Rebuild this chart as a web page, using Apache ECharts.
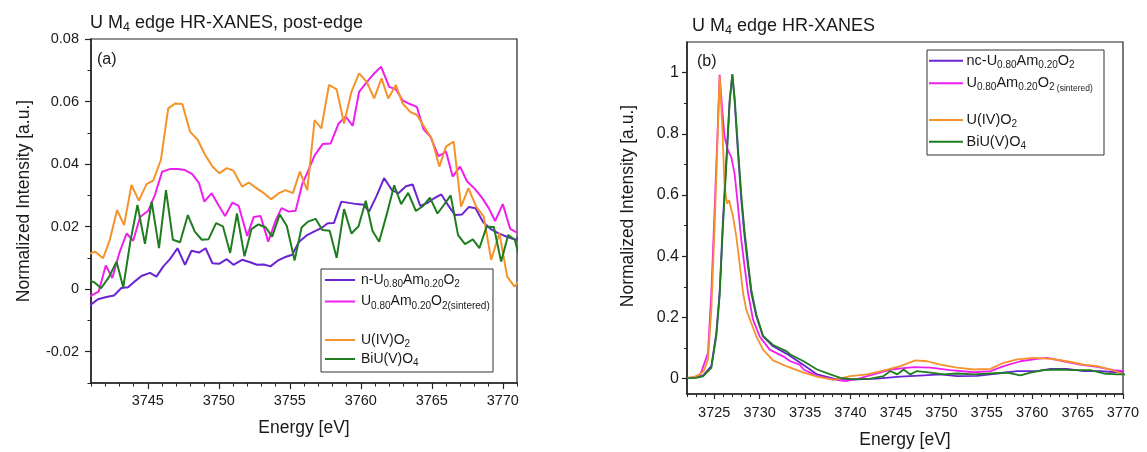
<!DOCTYPE html>
<html>
<head>
<meta charset="utf-8">
<script src="https://cdn.jsdelivr.net/npm/echarts@6/dist/echarts.min.js"></script>
<style>
  html, body { margin: 0; padding: 0; background: #fff; }
  #chart { width: 1147px; height: 452px; }
</style>
</head>
<body>
<div id="chart"></div>
<script>
// panel (a): post-edge region
const xTicksA = [3745, 3750, 3755, 3760, 3765, 3770];
const yTicksA = [-0.02, 0, 0.02, 0.04, 0.06, 0.08];

const eNUa = [3740.82, 3741.49, 3742.08, 3742.62, 3743.14, 3743.61, 3744.09, 3744.55, 3745.15, 3745.61, 3746.08, 3746.56, 3747.09, 3747.62, 3748.08, 3748.61, 3749.07, 3749.55, 3750.02, 3750.56, 3751.03, 3751.64, 3752.16, 3752.69, 3753.17, 3753.64, 3754.14, 3754.63, 3755.17, 3755.64, 3756.22, 3756.70, 3757.21, 3757.67, 3758.11, 3758.63, 3759.17, 3759.72, 3760.21, 3760.58, 3761.13, 3761.64, 3762.19, 3762.65, 3763.18, 3763.65, 3764.19, 3764.69, 3765.15, 3765.67, 3766.14, 3766.64, 3767.13, 3767.62, 3768.08, 3768.61, 3769.13, 3769.64, 3770.10, 3770.59, 3770.94, 3771.16];
const iNUa = [-0.0055, -0.0032, -0.0025, -0.0020, 0.0004, 0.0006, 0.0025, 0.0042, 0.0052, 0.0040, 0.0072, 0.0096, 0.0131, 0.0078, 0.0123, 0.0117, 0.0131, 0.0083, 0.0081, 0.0096, 0.0078, 0.0094, 0.0087, 0.0078, 0.0079, 0.0073, 0.0091, 0.0102, 0.0110, 0.0151, 0.0173, 0.0184, 0.0195, 0.0211, 0.0212, 0.0280, 0.0276, 0.0272, 0.0270, 0.0248, 0.0300, 0.0355, 0.0317, 0.0307, 0.0329, 0.0335, 0.0266, 0.0276, 0.0290, 0.0303, 0.0269, 0.0237, 0.0239, 0.0263, 0.0259, 0.0215, 0.0193, 0.0180, 0.0171, 0.0163, 0.0158, 0.0170];

const eSintA = [3740.82, 3741.54, 3742.04, 3742.50, 3743.01, 3743.51, 3743.97, 3744.46, 3745.03, 3745.50, 3746.01, 3746.56, 3747.09, 3747.62, 3748.13, 3748.61, 3748.98, 3749.50, 3749.97, 3750.44, 3750.96, 3751.40, 3752.00, 3752.46, 3752.94, 3753.48, 3753.99, 3754.42, 3754.93, 3755.41, 3755.87, 3756.22, 3756.75, 3757.31, 3757.88, 3758.44, 3758.94, 3759.43, 3759.88, 3760.35, 3760.94, 3761.43, 3762.00, 3762.47, 3762.94, 3763.46, 3763.95, 3764.41, 3764.91, 3765.47, 3766.00, 3766.47, 3766.99, 3767.48, 3768.05, 3768.54, 3769.00, 3769.46, 3770.00, 3770.52, 3771.01, 3771.37];
const iSintA = [-0.0025, -0.0008, 0.0076, 0.0036, 0.0118, 0.0178, 0.0155, 0.0231, 0.0251, 0.0301, 0.0376, 0.0384, 0.0384, 0.0381, 0.0368, 0.0339, 0.0280, 0.0307, 0.0269, 0.0234, 0.0277, 0.0266, 0.0170, 0.0231, 0.0234, 0.0152, 0.0218, 0.0259, 0.0248, 0.0251, 0.0335, 0.0371, 0.0428, 0.0464, 0.0466, 0.0530, 0.0552, 0.0522, 0.0631, 0.0658, 0.0690, 0.0711, 0.0647, 0.0639, 0.0604, 0.0592, 0.0583, 0.0512, 0.0487, 0.0425, 0.0440, 0.0360, 0.0392, 0.0345, 0.0320, 0.0292, 0.0260, 0.0218, 0.0272, 0.0193, 0.0181, 0.0185];

const eUO2a = [3740.82, 3741.30, 3741.85, 3742.32, 3742.84, 3743.33, 3743.85, 3744.37, 3744.91, 3745.38, 3745.92, 3746.44, 3746.95, 3747.43, 3747.97, 3748.51, 3749.03, 3749.55, 3750.04, 3750.56, 3751.03, 3751.64, 3752.11, 3752.65, 3753.17, 3753.69, 3754.23, 3754.70, 3755.22, 3755.71, 3756.23, 3756.75, 3757.22, 3757.76, 3758.30, 3758.82, 3759.34, 3759.88, 3760.42, 3760.94, 3761.46, 3761.93, 3762.47, 3762.94, 3763.48, 3763.95, 3764.47, 3764.99, 3765.53, 3766.00, 3766.54, 3767.06, 3767.58, 3768.12, 3768.66, 3769.18, 3769.76, 3770.31, 3770.82, 3771.30];
const iUO2a = [0.0112, 0.0120, 0.0099, 0.0157, 0.0253, 0.0205, 0.0333, 0.0283, 0.0336, 0.0347, 0.0413, 0.0578, 0.0594, 0.0592, 0.0504, 0.0478, 0.0430, 0.0392, 0.0371, 0.0387, 0.0379, 0.0328, 0.0341, 0.0323, 0.0307, 0.0288, 0.0307, 0.0317, 0.0307, 0.0376, 0.0317, 0.0541, 0.0514, 0.0653, 0.0639, 0.0530, 0.0631, 0.0690, 0.0663, 0.0610, 0.0674, 0.0610, 0.0653, 0.0594, 0.0567, 0.0557, 0.0519, 0.0482, 0.0392, 0.0456, 0.0472, 0.0264, 0.0323, 0.0264, 0.0232, 0.0094, 0.0179, 0.0040, 0.0008, 0.0035];

const eBiUa = [3740.82, 3741.26, 3741.71, 3742.24, 3742.80, 3743.27, 3743.77, 3744.27, 3744.80, 3745.27, 3745.79, 3746.28, 3746.77, 3747.27, 3747.82, 3748.31, 3748.80, 3749.28, 3749.81, 3750.29, 3750.80, 3751.28, 3751.81, 3752.30, 3752.79, 3753.29, 3753.76, 3754.29, 3754.79, 3755.34, 3755.83, 3756.28, 3756.82, 3757.29, 3757.81, 3758.30, 3758.82, 3759.34, 3759.84, 3760.35, 3760.82, 3761.29, 3761.83, 3762.35, 3762.84, 3763.34, 3763.88, 3764.39, 3764.87, 3765.40, 3765.86, 3766.33, 3766.85, 3767.34, 3767.89, 3768.35, 3768.86, 3769.37, 3769.88, 3770.38, 3770.85, 3771.09];
const iBiUa = [0.0030, 0.0021, 0.0003, 0.0037, 0.0088, 0.0006, 0.0152, 0.0269, 0.0145, 0.0280, 0.0131, 0.0317, 0.0158, 0.0150, 0.0237, 0.0184, 0.0158, 0.0160, 0.0211, 0.0201, 0.0116, 0.0242, 0.0105, 0.0192, 0.0207, 0.0198, 0.0168, 0.0239, 0.0202, 0.0092, 0.0197, 0.0216, 0.0225, 0.0189, 0.0187, 0.0100, 0.0256, 0.0178, 0.0201, 0.0283, 0.0187, 0.0152, 0.0240, 0.0332, 0.0272, 0.0308, 0.0250, 0.0266, 0.0293, 0.0242, 0.0270, 0.0300, 0.0173, 0.0144, 0.0159, 0.0131, 0.0200, 0.0199, 0.0088, 0.0173, 0.0158, 0.0115];

// panel (b): full edge
const xTicksB = [3725, 3730, 3735, 3740, 3745, 3750, 3755, 3760, 3765, 3770];
const yTicksB = [0, 0.2, 0.4, 0.6, 0.8, 1];
const yMinorB = [0.1, 0.3, 0.5, 0.7, 0.9];

const eNcB = [3722.0, 3723.0, 3723.76, 3724.68, 3725.23, 3725.59, 3725.96, 3726.33, 3726.69, 3726.99, 3727.24, 3727.62, 3727.98, 3728.34, 3728.72, 3729.08, 3729.63, 3730.37, 3731.47, 3732.94, 3734.84, 3736.32, 3738.15, 3740.72, 3742.92, 3745.49, 3748.06, 3749.90, 3751.74, 3753.94, 3756.14, 3758.34, 3760.55, 3762.01, 3763.85, 3765.68, 3767.52, 3769.36, 3770.08];
const iNcB = [0.002, 0.004, 0.010, 0.041, 0.150, 0.280, 0.518, 0.713, 0.908, 0.993, 0.908, 0.735, 0.583, 0.464, 0.366, 0.280, 0.204, 0.138, 0.106, 0.082, 0.045, 0.014, 0.000, -0.002, 0.000, 0.0065, 0.011, 0.014, 0.0085, 0.009, 0.017, 0.025, 0.025, 0.032, 0.032, 0.025, 0.025, 0.021, 0.024];

const eSintB = [3722.0, 3722.66, 3723.02, 3723.5, 3724.31, 3724.68, 3725.04, 3725.41, 3725.59, 3725.89, 3726.14, 3726.52, 3726.88, 3727.24, 3727.62, 3727.98, 3728.34, 3728.72, 3729.27, 3730.00, 3731.10, 3732.57, 3733.38, 3734.40, 3734.84, 3736.32, 3738.15, 3739.43, 3740.72, 3742.92, 3744.39, 3746.96, 3748.79, 3750.99, 3753.56, 3755.40, 3756.87, 3758.71, 3760.55, 3761.65, 3763.47, 3765.31, 3767.15, 3768.98, 3770.08];
const iSintB = [0.003, 0.004, 0.008, 0.015, 0.085, 0.280, 0.550, 0.843, 0.993, 0.875, 0.789, 0.745, 0.724, 0.670, 0.561, 0.453, 0.366, 0.280, 0.193, 0.138, 0.095, 0.073, 0.057, 0.046, 0.030, 0.0085, -0.002, -0.008, -0.001, 0.017, 0.030, 0.038, 0.036, 0.028, 0.021, 0.025, 0.041, 0.057, 0.065, 0.068, 0.057, 0.046, 0.039, 0.028, 0.025];

const eUO2b = [3722.0, 3722.66, 3723.39, 3723.85, 3724.31, 3724.68, 3725.04, 3725.41, 3725.59, 3725.89, 3726.14, 3726.41, 3726.63, 3727.07, 3727.43, 3727.79, 3728.17, 3728.53, 3729.08, 3729.63, 3730.37, 3731.47, 3733.01, 3734.84, 3736.32, 3738.15, 3739.62, 3739.98, 3741.82, 3744.03, 3745.49, 3747.14, 3748.43, 3749.90, 3751.74, 3753.56, 3755.40, 3756.87, 3758.34, 3760.17, 3762.01, 3763.85, 3765.68, 3767.15, 3768.62, 3770.08];
const iUO2b = [0.003, 0.004, 0.014, 0.025, 0.063, 0.225, 0.496, 0.821, 0.989, 0.820, 0.626, 0.572, 0.583, 0.529, 0.464, 0.377, 0.280, 0.225, 0.182, 0.138, 0.095, 0.060, 0.040, 0.020, 0.0065, -0.004, 0.006, 0.0085, 0.014, 0.030, 0.041, 0.060, 0.057, 0.046, 0.036, 0.030, 0.032, 0.052, 0.063, 0.068, 0.065, 0.057, 0.046, 0.041, 0.030, 0.014];

const eBiUb = [3722.0, 3723.0, 3723.76, 3724.68, 3725.23, 3725.59, 3725.96, 3726.33, 3726.69, 3726.99, 3727.24, 3727.62, 3727.98, 3728.34, 3728.72, 3729.08, 3729.63, 3730.37, 3731.47, 3732.94, 3733.38, 3734.84, 3736.32, 3737.78, 3738.88, 3740.35, 3742.19, 3743.65, 3744.39, 3745.13, 3745.85, 3746.59, 3747.33, 3748.79, 3750.26, 3751.74, 3753.56, 3755.40, 3757.24, 3758.71, 3759.81, 3761.27, 3762.74, 3764.57, 3766.41, 3767.88, 3769.35, 3770.45];
const iBiUb = [0.002, 0.003, 0.008, 0.035, 0.140, 0.270, 0.500, 0.700, 0.900, 0.995, 0.920, 0.750, 0.600, 0.480, 0.380, 0.290, 0.210, 0.140, 0.110, 0.090, 0.079, 0.057, 0.030, 0.014, 0.003, -0.002, 0.000, 0.0085, 0.025, 0.014, 0.030, 0.014, 0.025, 0.020, 0.014, 0.017, 0.014, 0.017, 0.020, 0.011, 0.020, 0.028, 0.030, 0.028, 0.028, 0.017, 0.014, 0.014];

// legend text pieces: [kind, text]  n = normal, s = subscript, t = tiny subscript
const labelsA = [
  [['n', 'n-U'], ['s', '0.80'], ['n', 'Am'], ['s', '0.20'], ['n', 'O'], ['s', '2']],
  [['n', 'U'], ['s', '0.80'], ['n', 'Am'], ['s', '0.20'], ['n', 'O'], ['s', '2(sintered)']],
  [['n', 'U(IV)O'], ['s', '2']],
  [['n', 'BiU(V)O'], ['s', '4']]
];
const labelsB = [
  [['n', 'nc-U'], ['s', '0.80'], ['n', 'Am'], ['s', '0.20'], ['n', 'O'], ['s', '2']],
  [['n', 'U'], ['s', '0.80'], ['n', 'Am'], ['s', '0.20'], ['n', 'O'], ['s', '2'], ['t', ' (sintered)']],
  [['n', 'U(IV)O'], ['s', '2']],
  [['n', 'BiU(V)O'], ['s', '4']]
];

const colNU = '#6a24d4';
const colSint = '#ee1fee';
const colUO2 = '#f4932b';
const colBiU = '#1f7d1f';
const legendColors = [colNU, colSint, colUO2, colBiU];

const FONT = '"Liberation Sans", Arial, sans-serif';
const TXT = '#1a1a1a';
const AX = '#222';

function pairs(e, v) {
  const out = [];
  for (let i = 0; i < Math.min(e.length, v.length); i++) out.push([e[i], v[i]]);
  return out;
}

const measureCtx = document.createElement('canvas').getContext('2d');
function textW(str, size) {
  measureCtx.font = size + 'px ' + FONT;
  return measureCtx.measureText(str).width;
}

// a line of text with lowered subscripts, laid out piece by piece
function subText(x, y, parts, sizes, drops) {
  const out = [];
  let cx = x;
  parts.forEach(function (p) {
    const size = sizes[p[0]];
    out.push({
      type: 'text', x: cx, y: y + drops[p[0]], z: 100,
      style: { text: p[1], font: size + 'px ' + FONT, fill: TXT, verticalAlign: 'middle', align: 'left' }
    });
    cx += textW(p[1], size);
  });
  return out;
}

function legendBox(x, y, w, h, rows, labels, lx1, lx2, tx, sizes, drops) {
  let children = [{
    type: 'rect', shape: { x: 0, y: 0, width: w, height: h },
    style: { fill: '#fff', stroke: '#333', lineWidth: 1 }
  }];
  rows.forEach(function (yc, i) {
    children.push({
      type: 'line', shape: { x1: lx1, y1: yc, x2: lx2, y2: yc },
      style: { stroke: legendColors[i], lineWidth: 2 }
    });
    children = children.concat(subText(tx, yc, labels[i], sizes, drops));
  });
  return { type: 'group', x: x, y: y, z: 100, children: children };
}

const chart = echarts.init(document.getElementById('chart'));

function plain(v) { return String(v); }

function mainX(gi, min, max, ticks, margin, gap, tickLen) {
  return {
    type: 'value', gridIndex: gi, min: min, max: max, position: 'bottom',
    name: 'Energy [eV]', nameLocation: 'middle', nameGap: gap,
    nameTextStyle: { fontSize: 17.5, color: TXT, fontFamily: FONT },
    axisLine: { show: true, onZero: false, lineStyle: { color: AX, width: 1.5 } },
    axisTick: { show: true, length: tickLen, customValues: ticks, lineStyle: { color: AX, width: 1.2 } },
    axisLabel: { customValues: ticks, formatter: plain, margin: margin, fontSize: 14.5, color: TXT, fontFamily: FONT },
    splitLine: { show: false }
  };
}
function minorX(gi, min, max, tickLen) {
  return {
    type: 'value', gridIndex: gi, min: min, max: max, interval: 1, position: 'bottom',
    axisLine: { show: false, onZero: false },
    axisTick: { show: true, length: tickLen, lineStyle: { color: AX, width: 1 } },
    axisLabel: { show: false }, splitLine: { show: false }
  };
}
function mainY(gi, min, max, ticks, margin, gap, tickLen, fs, pad) {
  return {
    type: 'value', gridIndex: gi, min: min, max: max, position: 'left',
    name: 'Normalized Intensity [a.u.]', nameLocation: 'middle', nameGap: gap, nameRotate: 90,
    nameTextStyle: { fontSize: 17.5, color: TXT, fontFamily: FONT, padding: [0, 0, 0, pad] },
    axisLine: { show: true, onZero: false, lineStyle: { color: AX, width: 1.5 } },
    axisTick: { show: true, length: tickLen, customValues: ticks, lineStyle: { color: AX, width: 1.2 } },
    axisLabel: { customValues: ticks, formatter: plain, margin: margin, fontSize: fs, color: TXT, fontFamily: FONT },
    splitLine: { show: false }
  };
}
function minorY(gi, min, max, tickLen, extra) {
  return Object.assign({
    type: 'value', gridIndex: gi, min: min, max: max, position: 'left',
    axisLine: { show: false, onZero: false },
    axisTick: { show: true, length: tickLen, lineStyle: { color: AX, width: 1 } },
    axisLabel: { show: false }, splitLine: { show: false }
  }, extra);
}

function line(name, data, color, xi, yi, w) {
  return {
    name: name, type: 'line', xAxisIndex: xi, yAxisIndex: yi, data: data,
    showSymbol: false, symbol: 'none', clip: true,
    lineStyle: { color: color, width: w }, itemStyle: { color: color }
  };
}

const titleSizes = { n: 18, s: 12.5 };
const titleDrops = { n: 0, s: 4 };

const graphics = []
  .concat(subText(90, 23.5, [['n', 'U M'], ['s', '4'], ['n', ' edge HR-XANES, post-edge']], titleSizes, titleDrops))
  .concat(subText(692, 26.5, [['n', 'U M'], ['s', '4'], ['n', ' edge HR-XANES']], titleSizes, titleDrops))
  .concat([
    { type: 'text', x: 97, y: 60, z: 100, style: { text: '(a)', font: '16px ' + FONT, fill: TXT, verticalAlign: 'middle' } },
    { type: 'text', x: 697, y: 62, z: 100, style: { text: '(b)', font: '16px ' + FONT, fill: TXT, verticalAlign: 'middle' } },
    legendBox(321, 269, 172, 103, [11, 32.5, 71, 90], labelsA, 4, 34, 40,
      { n: 14, s: 10, t: 10 }, { n: 0, s: 4.5, t: 4.5 }),
    legendBox(927, 50, 177, 105, [10.7, 33.3, 70, 91.7], labelsB, 2, 36, 39.5,
      { n: 14.5, s: 10, t: 8.5 }, { n: 0, s: 4.2, t: 5.5 })
  ]);

chart.setOption({
  animation: false,
  backgroundColor: '#fff',
  grid: [
    { left: 91, top: 39, width: 426, height: 344, outerBoundsMode: 'none', show: true, borderColor: AX, borderWidth: 1.2, backgroundColor: 'transparent' },
    { left: 687, top: 42, width: 436, height: 352, outerBoundsMode: 'none', show: true, borderColor: AX, borderWidth: 1.2, backgroundColor: 'transparent' }
  ],
  xAxis: [
    mainX(0, 3741, 3771, xTicksA, 10, 36, 6),
    minorX(0, 3741, 3771, 3.5),
    mainX(1, 3722, 3770, xTicksB, 11, 37, 5),
    minorX(1, 3722, 3770, 3)
  ],
  yAxis: [
    mainY(0, -0.03, 0.08, yTicksA, 12, 58, 6, 14.5, 20),
    minorY(0, -0.03, 0.08, 3.5, { interval: 0.01 }),
    mainY(1, -0.05, 1.1, yTicksB, 8, 50, 5, 16, 24),
    minorY(1, -0.05, 1.1, 3, { axisTick: { show: true, length: 3, customValues: yMinorB, lineStyle: { color: AX, width: 1 } } })
  ],
  series: [
    line('n-U0.80Am0.20O2', pairs(eNUa, iNUa), colNU, 0, 0, 2),
    line('U0.80Am0.20O2 (sintered)', pairs(eSintA, iSintA), colSint, 0, 0, 2),
    line('U(IV)O2', pairs(eUO2a, iUO2a), colUO2, 0, 0, 2),
    line('BiU(V)O4', pairs(eBiUa, iBiUa), colBiU, 0, 0, 2),
    line('nc-U0.80Am0.20O2', pairs(eNcB, iNcB), colNU, 2, 2, 1.8),
    line('U0.80Am0.20O2 (sintered)', pairs(eSintB, iSintB), colSint, 2, 2, 1.8),
    line('U(IV)O2', pairs(eUO2b, iUO2b), colUO2, 2, 2, 1.8),
    line('BiU(V)O4', pairs(eBiUb, iBiUb), colBiU, 2, 2, 1.8)
  ],
  graphic: graphics
});
</script>
</body>
</html>
